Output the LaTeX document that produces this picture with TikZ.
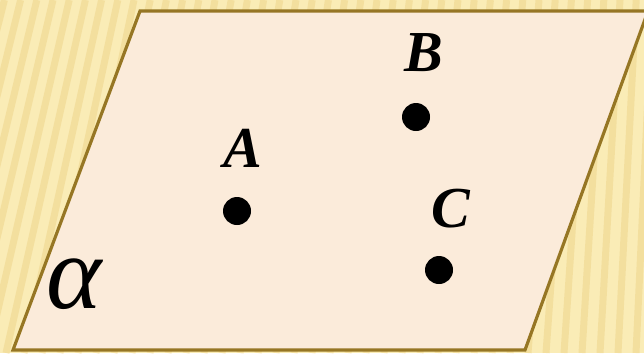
\documentclass[tikz,border=0pt]{standalone}
\usepackage{fontspec}
\setmainfont{Liberation Serif}
\usetikzlibrary{positioning}

\definecolor{paper}{RGB}{250,236,182}
\definecolor{stripe}{RGB}{238,213,140}
\definecolor{plane}{RGB}{251,235,218}
\definecolor{rim}{RGB}{150,118,36}

\tikzset{
  dot/.style={circle,fill=black,inner sep=0pt,minimum size=0.56cm},
  pointname/.style={font=\fontsize{33}{36}\selectfont\bfseries\itshape,inner sep=0pt},
}

\begin{document}
\begin{tikzpicture}[x=0.02cm,y=-0.02cm]
     \useasboundingbox (0,0) rectangle (644,353);
     % striped background
     \fill[paper] (0,0) rectangle (644,353);
     \begin{scope}
     \clip (0,0) rectangle (644,353);
     \foreach \s in {-120,-102,...,700}
       \draw[stripe,line width=0.14cm,opacity=0.55] (\s,353) -- ++({80-0.1*\s},-353);
     \end{scope}
     % the plane
     \draw[rim,fill=plane,line width=1.8pt,line join=miter]
       (13,350) -- (140,11) -- (648,11) -- (525,350) -- cycle;
     \node[font=\fontsize{60}{64}\selectfont\itshape] (alpha) at (74,284) {α};
     % points
     \node[dot] (a) at (237,211) {};
     \node[dot] (b) at (416,117) {};
     \node[dot] (c) at (439,270) {};
     \node[pointname] (la) at (243,148) {A};
     \node[pointname] (lb) at (424,53) {B};
     \node[pointname] (lc) at (451,209) {C};
   \end{tikzpicture}
\end{document}
